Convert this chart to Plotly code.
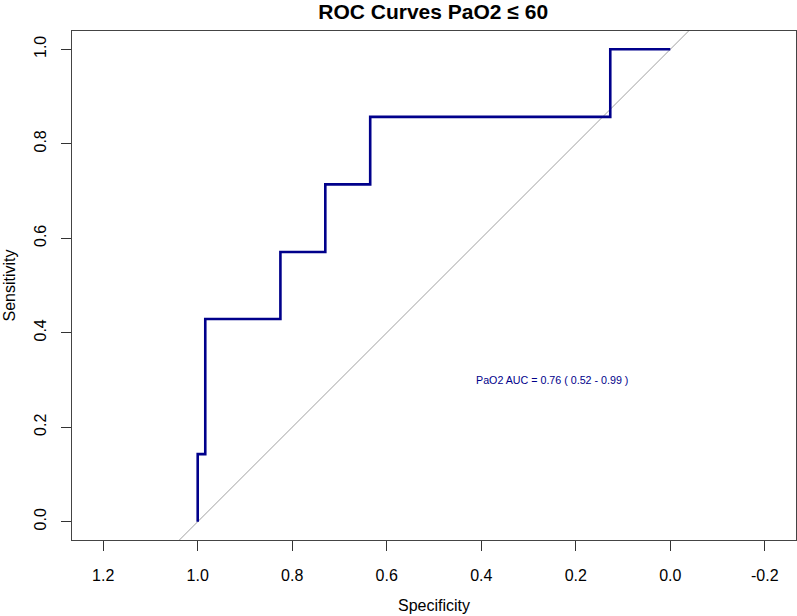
import plotly.graph_objects as go

# ROC curve vertices (specificity, sensitivity)
specificity = [1.0, 1.0, 0.984, 0.984, 0.825, 0.825, 0.730, 0.730, 0.635, 0.635, 0.127, 0.127, 0.0]
sensitivity = [0.0, 0.143, 0.143, 0.429, 0.429, 0.571, 0.571, 0.714, 0.714, 0.857, 0.857, 1.0, 1.0]

# chance diagonal
diag_spec = [1.1, -0.1]
diag_sens = [-0.1, 1.1]

x_ticks = [1.2, 1.0, 0.8, 0.6, 0.4, 0.2, 0.0, -0.2]
x_tick_labels = ["1.2", "1.0", "0.8", "0.6", "0.4", "0.2", "0.0", "-0.2"]
y_ticks = [0.0, 0.2, 0.4, 0.6, 0.8, 1.0]
y_tick_labels = ["0.0", "0.2", "0.4", "0.6", "0.8", "1.0"]

auc_text = "PaO2 AUC = 0.76 ( 0.52 - 0.99 )"
auc_pos = (0.25, 0.30)

FONT = "Liberation Sans, Arial, sans-serif"
CURVE = "#00008B"

fig = go.Figure()
fig.add_trace(go.Scatter(x=diag_spec, y=diag_sens, mode="lines",
                         line=dict(color="#A0A0A0", width=1), hoverinfo="skip",
                         showlegend=False))
fig.add_trace(go.Scatter(x=specificity, y=sensitivity, mode="lines",
                         line=dict(color=CURVE, width=2.6), showlegend=False))

fig.add_annotation(x=auc_pos[0], y=auc_pos[1], xref="x", yref="y", text=auc_text,
                   showarrow=False, font=dict(family=FONT, size=10.7, color=CURVE))

# axis titles placed like R's mtext lines
fig.add_annotation(x=0.5, y=0, xref="paper", yref="paper", text="Specificity",
                   showarrow=False, xanchor="center", yanchor="middle", yshift=-65,
                   font=dict(family=FONT, size=16, color="black"))
fig.add_annotation(x=0, y=0.5, xref="paper", yref="paper", text="Sensitivity",
                   showarrow=False, xanchor="center", yanchor="middle", xshift=-63,
                   textangle=-90, font=dict(family=FONT, size=16, color="black"))

fig.update_layout(
    width=797, height=616,
    margin=dict(l=72, r=1, t=31, b=76, autoexpand=False),
    paper_bgcolor="white", plot_bgcolor="white",
    font=dict(family=FONT, color="black"),
    title=dict(text="<b>ROC Curves PaO2 ≤ 60</b>", x=0.5435, xanchor="center",
               y=0.981, yanchor="middle", font=dict(size=21, color="black"),
               automargin=False),
)
fig.update_xaxes(range=[1.266, -0.266], tickmode="array", tickvals=x_ticks,
                 ticktext=x_tick_labels, ticks="outside", ticklen=10, tickwidth=1,
                 tickcolor="#333", showline=True, linecolor="#444", linewidth=1.3,
                 mirror=True, showgrid=False, zeroline=False, automargin=False,
                 tickfont=dict(size=16), ticklabelstandoff=11)
fig.update_yaxes(range=[-0.0387, 1.0387], tickmode="array", tickvals=y_ticks,
                 ticktext=y_tick_labels, ticks="outside", ticklen=10, tickwidth=1,
                 tickcolor="#333", showline=True, linecolor="#444", linewidth=1.3,
                 mirror=True, showgrid=False, zeroline=False, tickangle=-90,
                 automargin=False, tickfont=dict(size=16), ticklabelstandoff=8)

fig.write_html("out.html", config={"displayModeBar": False},
               post_script="document.body.style.margin='0';document.body.style.overflow='hidden';")
